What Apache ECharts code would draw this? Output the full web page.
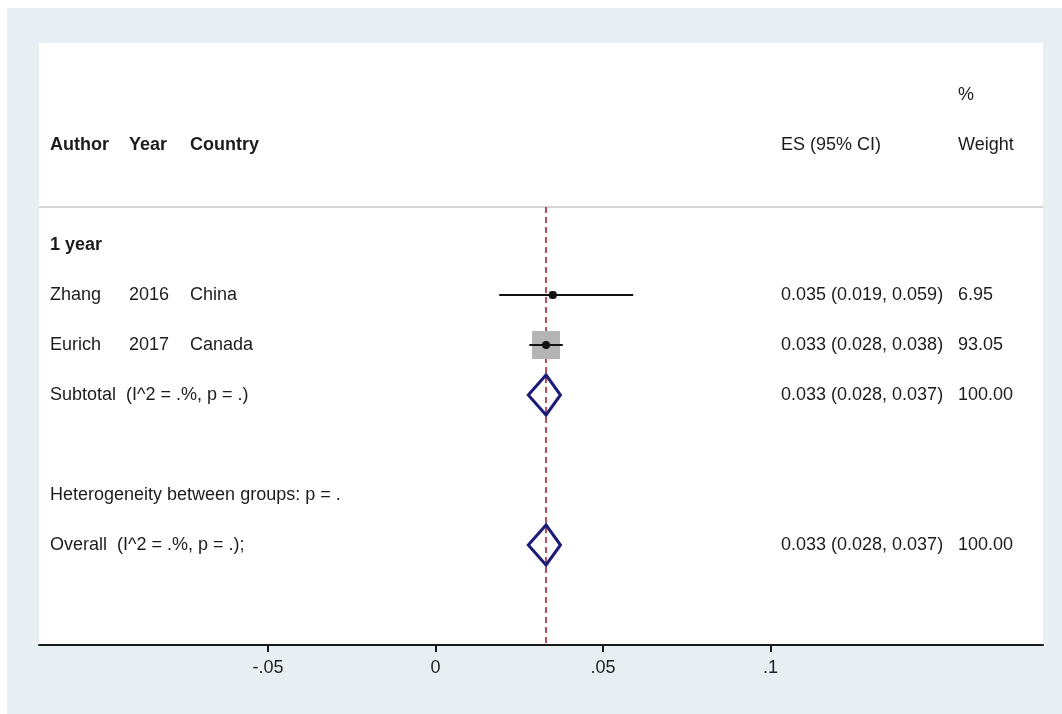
<!DOCTYPE html>
<html>
<head>
<meta charset="utf-8">
<script src="https://cdn.jsdelivr.net/npm/echarts@6/dist/echarts.min.js"></script>
<style>
html,body{margin:0;padding:0;background:#ffffff;}
#c{position:absolute;left:7px;top:8px;width:1055px;height:706px;}
</style>
</head>
<body>
<div id="c"></div>
<script>
// ---- data ----
const authors = ['Zhang', 'Eurich'];
const years = ['2016', '2017'];
const countries = ['China', 'Canada'];
const es = [0.035, 0.033];
const ciLow = [0.019, 0.028];
const ciHigh = [0.059, 0.038];
const weights = [6.95, 93.05];
const pooledLabels = ['Subtotal  (I^2 = .%, p = .)', 'Overall  (I^2 = .%, p = .);'];
const pooledEs = [0.033, 0.033];
const pooledLow = [0.028, 0.028];
const pooledHigh = [0.037, 0.037];
const pooledWeights = [100.00, 100.00];
const groupLabel = '1 year';
const hetLabel = 'Heterogeneity between groups: p = .';
const headers = ['Author', 'Year', 'Country', 'ES (95% CI)', '%', 'Weight'];
const refValue = 0.033;
const xTicks = [-0.05, 0, 0.05, 0.1];
const xTickLabels = ['-.05', '0', '.05', '.1'];

// ---- layout (row indices & pixel columns) ----
const studyRows = [1, 2];
const pooledRows = [3, 6];
const groupRow = 0, hetRow = 5, headerRow = -2, pctRow = -3, sepRow = -0.76;
const colAuthor = 43, colYear = 122, colCountry = 183, colES = 774, colW = 951;
const FONT = 'Liberation Sans, Arial, sans-serif';
const TXT = '#1c1c1c';

function fmtES(e, l, h) { return e.toFixed(3) + ' (' + l.toFixed(3) + ', ' + h.toFixed(3) + ')'; }

function txt(x, y, s, bold) {
  return { type: 'text', style: { x: x, y: y, text: s, fill: TXT, font: (bold ? 'bold ' : '') + '18px ' + FONT, textVerticalAlign: 'middle', verticalAlign: 'middle' } };
}

const chart = echarts.init(document.getElementById('c'));

const studyData = es.map((v, i) => [v, studyRows[i], ciLow[i], ciHigh[i], weights[i]]);
const pooledData = pooledEs.map((v, i) => [v, pooledRows[i], pooledLow[i], pooledHigh[i], pooledWeights[i]]);

const option = {
  backgroundColor: '#e8eff2',
  animation: false,
  grid: { left: 32, right: 19, top: 35, bottom: 69, show: true, backgroundColor: '#ffffff', borderWidth: 0 },
  xAxis: {
    type: 'value', min: -0.11836, max: 0.18134,
    splitLine: { show: false },
    axisLine: { show: true, onZero: false, lineStyle: { color: '#1a1a1a', width: 2 } },
    axisTick: { show: true, customValues: xTicks, length: 7, lineStyle: { color: '#1a1a1a', width: 2 } },
    axisLabel: {
      customValues: xTicks, color: '#222', fontSize: 18, fontFamily: FONT, margin: 14,
      formatter: function (v) {
        let best = 0;
        for (let i = 1; i < xTicks.length; i++) if (Math.abs(xTicks[i] - v) < Math.abs(xTicks[best] - v)) best = i;
        return xTickLabels[best];
      }
    }
  },
  yAxis: { type: 'value', inverse: true, min: -4.04, max: 8, show: false, splitLine: { show: false } },
  series: [
    { // table text + separator + reference line
      type: 'custom', clip: false, z: 1,
      data: [[refValue, 0]],
      renderItem: function (params, api) {
        const cs = params.coordSys;
        const Y = r => api.coord([0, r])[1];
        const children = [];
        const ySep = Y(sepRow);
        children.push({ type: 'line', shape: { x1: cs.x, y1: ySep, x2: cs.x + cs.width, y2: ySep }, style: { stroke: '#c9c9c9', lineWidth: 1.5 } });
        const xr = api.coord([api.value(0), 0])[0];
        children.push({ type: 'line', shape: { x1: xr, y1: ySep, x2: xr, y2: cs.y + cs.height }, style: { stroke: '#a9505c', lineWidth: 2, lineDash: [6, 4] } });
        const yh = Y(headerRow);
        children.push(txt(colAuthor, yh, headers[0], true));
        children.push(txt(colYear, yh, headers[1], true));
        children.push(txt(colCountry, yh, headers[2], true));
        children.push(txt(colES, yh, headers[3], false));
        children.push(txt(colW, Y(pctRow), headers[4], false));
        children.push(txt(colW, yh, headers[5], false));
        children.push(txt(colAuthor, Y(groupRow), groupLabel, true));
        for (let i = 0; i < authors.length; i++) {
          const y = Y(studyRows[i]);
          children.push(txt(colAuthor, y, authors[i]));
          children.push(txt(colYear, y, years[i]));
          children.push(txt(colCountry, y, countries[i]));
          children.push(txt(colES, y, fmtES(es[i], ciLow[i], ciHigh[i])));
          children.push(txt(colW, y, weights[i].toFixed(2)));
        }
        for (let i = 0; i < pooledLabels.length; i++) {
          const y = Y(pooledRows[i]);
          children.push(txt(colAuthor, y, pooledLabels[i]));
          children.push(txt(colES, y, fmtES(pooledEs[i], pooledLow[i], pooledHigh[i])));
          children.push(txt(colW, y, pooledWeights[i].toFixed(2)));
        }
        children.push(txt(colAuthor, Y(hetRow), hetLabel));
        return { type: 'group', children: children };
      }
    },
    { // studies: box, CI, point
      type: 'custom', clip: false, z: 3,
      data: studyData,
      renderItem: function (params, api) {
        const p = api.coord([api.value(0), api.value(1)]);
        const l = api.coord([api.value(2), api.value(1)]);
        const h = api.coord([api.value(3), api.value(1)]);
        const side = 2.9 * Math.sqrt(api.value(4));
        return { type: 'group', children: [
          { type: 'rect', shape: { x: p[0] - side / 2, y: p[1] - side / 2, width: side, height: side }, style: { fill: '#b4b4b4' } },
          { type: 'line', shape: { x1: l[0], y1: l[1], x2: h[0], y2: h[1] }, style: { stroke: '#111', lineWidth: 2 } },
          { type: 'circle', shape: { cx: p[0], cy: p[1], r: 4 }, style: { fill: '#111' } }
        ] };
      }
    },
    { // pooled diamonds
      type: 'custom', clip: false, z: 3,
      data: pooledData,
      renderItem: function (params, api) {
        const p = api.coord([api.value(0), api.value(1)]);
        const l = api.coord([api.value(2), api.value(1)]);
        const h = api.coord([api.value(3), api.value(1)]);
        const hh = 20;
        return { type: 'polygon', shape: { points: [[l[0] - 1, p[1]], [p[0], p[1] - hh], [h[0] + 1, p[1]], [p[0], p[1] + hh]] },
          style: { fill: 'rgba(255,255,255,0)', stroke: '#1c1c78', lineWidth: 3 } };
      }
    }
  ]
};
chart.setOption(option);
</script>
</body>
</html>
